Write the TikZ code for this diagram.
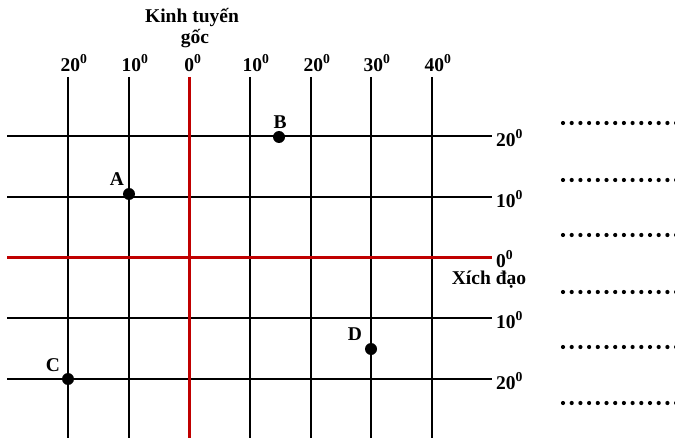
\documentclass[tikz,border=0pt]{standalone}
\usepackage{fontspec}
\setmainfont{Liberation Serif}
\definecolor{meridred}{RGB}{192,0,0}
\begin{document}
\begin{tikzpicture}[x=1pt,y=-1pt,
  lbl/.style={font=\fontsize{19.5}{21}\selectfont\bfseries, inner sep=0pt},
  gridline/.style={line width=2pt, black},
  mainline/.style={line width=3pt, meridred},
  pt/.style={circle, fill=black, inner sep=0pt, minimum size=12pt},
  dotline/.style={line width=4.2pt, line cap=round, dash pattern=on 0pt off 8.7pt}]
\useasboundingbox (0,0) rectangle (675,441);
% meridians
\foreach \x/\t in {68/20,129/10,250/10,311/20,371/30,432/40}{
  \draw[gridline] (\x,77) -- (\x,438);
  \node[lbl] (top\x) at (\x+6,63) {\t\textsuperscript{0}};
}
% parallels
\foreach \y/\t in {136/20,197/10,318/10,379/20}{
  \draw[gridline] (7,\y) -- (492,\y);
  \node[lbl, anchor=west] (right\y) at (496,\y+2) {\t\textsuperscript{0}};
}
% prime meridian and equator
\draw[mainline] (189.5,77) -- (189.5,438);
\draw[mainline] (7,257.5) -- (492,257.5);
\node[lbl] (top0) at (193,63) {0\textsuperscript{0}};
\node[lbl, anchor=west] (right0) at (496,259) {0\textsuperscript{0}};
\node[lbl] (xich) at (489,280) {Xích đạo};
\node[lbl] (kt) at (192,18) {Kinh tuyến};
\node[lbl] (goc) at (195,39) {gốc};
% points
\node[pt] (A) at (129,194) {};
\node[pt] (B) at (279,137) {};
\node[pt] (C) at (68,379) {};
\node[pt] (D) at (371,349) {};
\node[lbl] (lA) at (117,179) {A};
\node[lbl] (lB) at (280,122) {B};
\node[lbl] (lC) at (53,365) {C};
\node[lbl] (lD) at (355,334) {D};
% dotted answer lines
\foreach \y in {123,180,235,292,347,403}{
  \draw[dotline] (563,\y) -- (680,\y);
}
\end{tikzpicture}
\end{document}
